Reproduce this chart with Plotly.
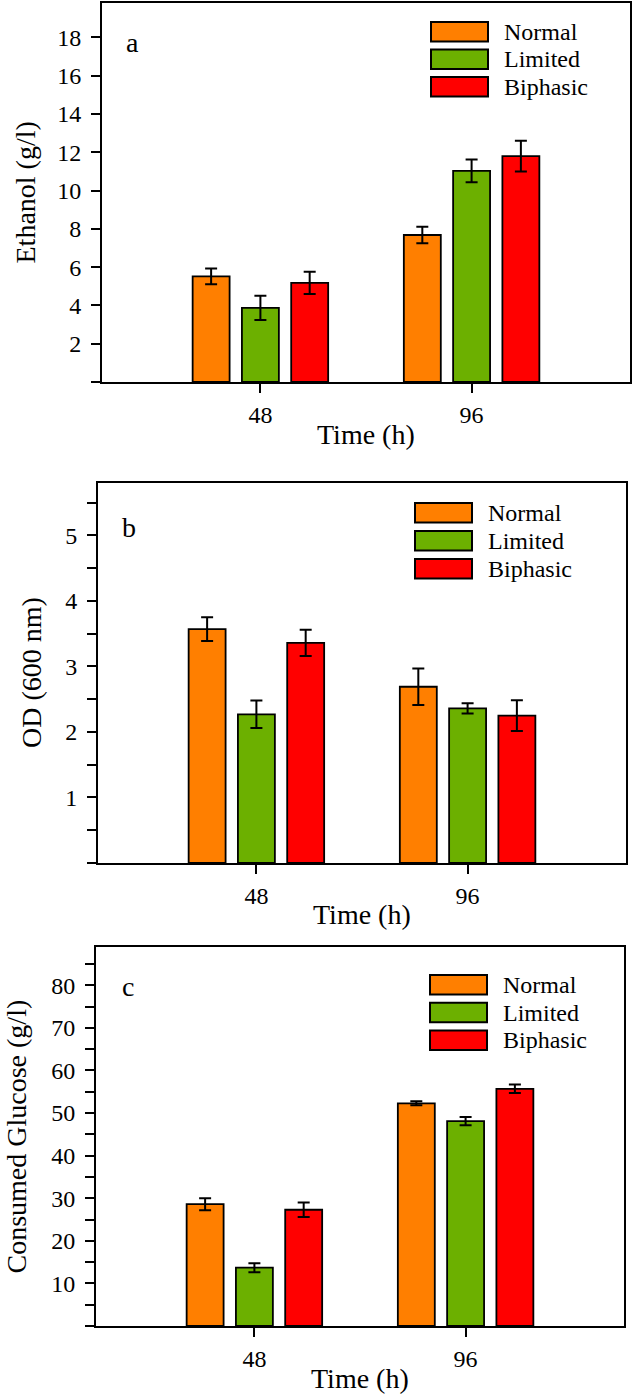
import plotly.graph_objects as go

# ---- data ----
time_labels = ["48", "96"]
series_names = ["Normal", "Limited", "Biphasic"]
series_colors = ["#FF7F00", "#6CB000", "#FF0000"]

ethanol_mean = [[5.52, 7.68], [3.87, 11.03], [5.18, 11.8]]
ethanol_err = [[0.41, 0.43], [0.63, 0.6], [0.58, 0.8]]

od_mean = [[3.57, 2.69], [2.27, 2.36], [3.36, 2.25]]
od_err = [[0.18, 0.28], [0.21, 0.08], [0.2, 0.235]]

glucose_mean = [[28.6, 52.3], [13.7, 48.1], [27.3, 55.7]]
glucose_err = [[1.4, 0.45], [1.05, 0.95], [1.7, 1.0]]

ethanol_ticks = [0, 2, 4, 6, 8, 10, 12, 14, 16, 18]
ethanol_ticktext = ["", "2", "4", "6", "8", "10", "12", "14", "16", "18"]
od_ticks = [0, 0.5, 1, 1.5, 2, 2.5, 3, 3.5, 4, 4.5, 5, 5.5]
od_ticktext = ["", "", "1", "", "2", "", "3", "", "4", "", "5", ""]
glucose_ticks = [0, 5, 10, 15, 20, 25, 30, 35, 40, 45, 50, 55, 60, 65, 70, 75, 80, 85]
glucose_ticktext = ["", "", "10", "", "20", "", "30", "", "40", "", "50", "", "60", "", "70", "", "80", ""]

W, H = 632, 1399
FONT = "Liberation Serif"


def px_x(x):
    return x / W


def px_y(y):
    return 1 - y / H


# pixel geometry of each panel
panels = [
    dict(name="a", ytitle="Ethanol (g/l)", mean=ethanol_mean, err=ethanol_err,
         ticks=ethanol_ticks, ticktext=ethanol_ticktext, yrange=[0, 19.8],
         left=102, right=630, top=3, bottom=382, ytitle_x=25,
         leg_x=431, leg_y=22, leg_step=27.5, lab_x=132, lab_y=43),
    dict(name="b", ytitle="OD (600 nm)", mean=od_mean, err=od_err,
         ticks=od_ticks, ticktext=od_ticktext, yrange=[0, 5.8],
         left=98, right=626, top=483, bottom=863, ytitle_x=32,
         leg_x=415, leg_y=503, leg_step=28, lab_x=129, lab_y=528),
    dict(name="c", ytitle="Consumed Glucose (g/l)", mean=glucose_mean, err=glucose_err,
         ticks=glucose_ticks, ticktext=glucose_ticktext, yrange=[0, 89],
         left=96, right=624, top=947, bottom=1326, ytitle_x=16,
         leg_x=430, leg_y=975, leg_step=27.8, lab_x=128, lab_y=986),
]

fig = go.Figure()
layout = {}
shapes = []
annotations = []

for i, p in enumerate(panels):
    sfx = "" if i == 0 else str(i + 1)
    xa, ya = "x" + sfx, "y" + sfx
    for k, name in enumerate(series_names):
        fig.add_trace(go.Bar(
            x=time_labels, y=p["mean"][k], name=name, xaxis=xa, yaxis=ya,
            marker=dict(color=series_colors[k], line=dict(color="black", width=1.8)),
            error_y=dict(type="data", array=p["err"][k], color="black", thickness=2, width=6),
            showlegend=False, offsetgroup=str(k),
        ))

    axis_common = dict(showline=True, linecolor="black", linewidth=2, mirror=True,
                       ticks="outside", ticklen=9, tickwidth=2, tickcolor="black",
                       showgrid=False, zeroline=False,
                       tickfont=dict(family=FONT, size=24, color="black"))
    layout["xaxis" + sfx] = dict(axis_common, domain=[px_x(p["left"]), px_x(p["right"])],
                                 anchor=ya, type="category", range=[-0.75, 1.75],
                                 ticklabelstandoff=1)
    layout["yaxis" + sfx] = dict(axis_common, domain=[px_y(p["bottom"]), px_y(p["top"])],
                                 anchor=xa, range=p["yrange"], tickvals=p["ticks"],
                                 ticktext=p["ticktext"], ticklabelstandoff=5)

    # axis titles
    annotations.append(dict(text="Time (h)", xref=xa + " domain", yref=ya + " domain",
                            x=0.5, y=0, yshift=-52, showarrow=False, yanchor="middle",
                            font=dict(family=FONT, size=28, color="black")))
    annotations.append(dict(text=p["ytitle"], xref="paper", yref=ya + " domain",
                            x=px_x(p["ytitle_x"]), y=0.5, textangle=-90, showarrow=False,
                            xanchor="center", yanchor="middle",
                            font=dict(family=FONT, size=28, color="black")))
    # panel letter
    annotations.append(dict(text=p["name"], xref="paper", yref="paper",
                            x=px_x(p["lab_x"]), y=px_y(p["lab_y"]), showarrow=False,
                            xanchor="center", yanchor="middle",
                            font=dict(family=FONT, size=28, color="black")))
    # legend drawn as boxes + labels
    for k, name in enumerate(series_names):
        y0 = p["leg_y"] + k * p["leg_step"]
        shapes.append(dict(type="rect", xref="paper", yref="paper",
                           x0=px_x(p["leg_x"]), x1=px_x(p["leg_x"] + 57),
                           y0=px_y(y0), y1=px_y(y0 + 19.5),
                           fillcolor=series_colors[k], line=dict(color="black", width=2)))
        annotations.append(dict(text=name, xref="paper", yref="paper",
                                x=px_x(p["leg_x"] + 71), y=px_y(y0 + 9.75),
                                xanchor="left", yanchor="middle", showarrow=False,
                                font=dict(family=FONT, size=24, color="black")))

fig.update_layout(
    width=W, height=H, margin=dict(l=0, r=0, t=0, b=0),
    paper_bgcolor="white", plot_bgcolor="white",
    font=dict(family=FONT, color="black"),
    barmode="group", bargap=0.3, bargroupgap=0.25,
    shapes=shapes, annotations=annotations, **layout,
)

# drop the page's default body margin so the figure sits at the top-left corner
fig.write_html("out.html", config={"displayModeBar": False},
               post_script="document.body.style.margin='0';")
